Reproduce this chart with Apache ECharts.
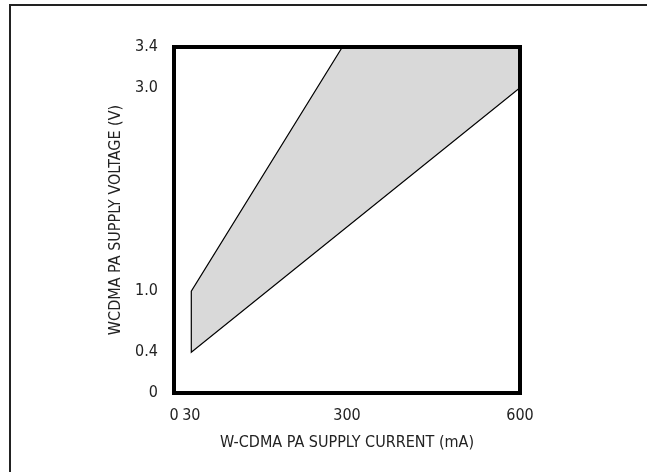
<!DOCTYPE html>
<html>
<head>
<meta charset="utf-8">
<script src="https://cdn.jsdelivr.net/npm/echarts@6/dist/echarts.min.js"></script>
<style>
html,body{margin:0;padding:0;background:#fff;}
#chart{width:647px;height:472px;}
</style>
</head>
<body>
<div id="chart"></div>
<script>
// Region boundary vertices (supply current mA, supply voltage V)
const currentMA = [30, 30, 292, 600, 600];
const voltageV = [0.4, 1.0, 3.4, 3.4, 3.0];
const xTicks = [0, 30, 300, 600];
const yTicks = [0, 0.4, 1.0, 3.0, 3.4];
const xTitle = 'W-CDMA PA SUPPLY CURRENT (mA)';
const yTitle = 'WCDMA PA SUPPLY VOLTAGE (V)';

const FONT = '"Liberation Sans Narrow", "DejaVu Sans Condensed", "Liberation Sans", sans-serif';
const chart = echarts.init(document.getElementById('chart'), null, {renderer: 'canvas'});
const pts = currentMA.map((x, i) => [x, voltageV[i]]);

chart.setOption({
  animation: false,
  backgroundColor: '#fff',
  graphic: [{
    type: 'rect', silent: true,
    shape: {x: 10, y: 5, width: 800, height: 600},
    style: {fill: 'none', stroke: '#222', lineWidth: 2}
  }],
  grid: {left: 174, top: 47, width: 346, height: 346, show: true,
         borderColor: '#000', borderWidth: 4, backgroundColor: 'transparent', z: 10},
  xAxis: {
    type: 'value', min: 0, max: 600,
    name: xTitle, nameLocation: 'middle', nameGap: 42,
    nameTextStyle: {fontFamily: FONT, fontSize: 16, color: '#222'},
    axisLine: {show: false}, axisTick: {show: false}, splitLine: {show: false},
    axisLabel: {customValues: xTicks, fontFamily: FONT, fontSize: 16, color: '#222', margin: 15,
                formatter: v => String(v)}
  },
  yAxis: {
    type: 'value', min: 0, max: 3.4,
    name: yTitle, nameLocation: 'middle', nameGap: 45,
    nameTextStyle: {fontFamily: FONT, fontSize: 16, color: '#222'},
    axisLine: {show: false}, axisTick: {show: false}, splitLine: {show: false},
    axisLabel: {customValues: yTicks, fontFamily: FONT, fontSize: 16, color: '#222', margin: 16,
                formatter: v => v === 0 ? '0' : v.toFixed(1)}
  },
  series: [{
    type: 'custom',
    data: [0],
    clip: true,
    renderItem: function (params, api) {
      const points = pts.map(p => api.coord(p));
      return {
        type: 'polygon',
        shape: {points: points},
        style: {fill: '#d9d9d9', stroke: '#000', lineWidth: 1.2}
      };
    }
  }]
});
</script>
</body>
</html>
